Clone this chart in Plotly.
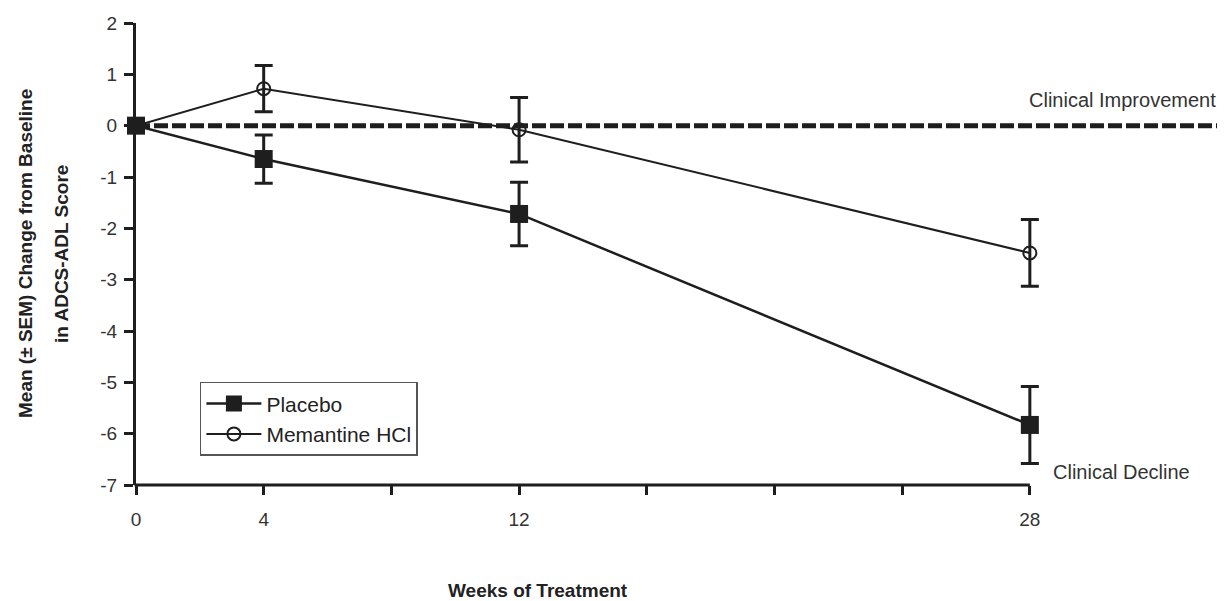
import plotly.graph_objects as go

weeks = [0, 4, 12, 28]
placebo_mean = [0, -0.65, -1.72, -5.83]
placebo_sem = [0, 0.47, 0.62, 0.75]
memantine_mean = [0, 0.72, -0.08, -2.48]
memantine_sem = [0, 0.45, 0.63, 0.65]
x_tickvals = [0, 4, 8, 12, 16, 20, 24, 28]
x_ticktext = ["0", "4", "", "12", "", "", "", "28"]
y_tickvals = [2, 1, 0, -1, -2, -3, -4, -5, -6, -7]
y_ticktext = ["2", "1", "0", "-1", "-2", "-3", "-4", "-5", "-6", "-7"]

ink = "#1e1e1e"
font = "Liberation Sans, Arial, sans-serif"
x_max = 28.6           # a little room so the end error bar caps are not clipped
axis_end = 28 / x_max  # the drawn x-axis line stops at week 28

fig = go.Figure()

fig.add_trace(go.Scatter(
    x=weeks, y=memantine_mean, name="Memantine HCl", mode="lines+markers",
    line=dict(color=ink, width=2),
    marker=dict(symbol="circle-open", size=13, color=ink, line=dict(width=2)),
    error_y=dict(type="data", array=memantine_sem, visible=True, color=ink, thickness=3, width=9),
    cliponaxis=False,
))
fig.add_trace(go.Scatter(
    x=weeks, y=placebo_mean, name="Placebo", mode="lines+markers",
    line=dict(color=ink, width=2.5),
    marker=dict(symbol="square", size=18, color=ink),
    error_y=dict(type="data", array=placebo_sem, visible=True, color=ink, thickness=3, width=9),
    cliponaxis=False,
))

# dashed zero reference line extending past the plot
fig.add_shape(type="line", xref="paper", yref="y", x0=0, x1=1.185, y0=0, y1=0,
              line=dict(color=ink, width=5, dash="14px,4px"), layer="below")
# x-axis line ending at week 28
fig.add_shape(type="line", xref="paper", yref="paper", x0=-0.0016, x1=axis_end, y0=0, y1=0,
              line=dict(color=ink, width=3))

fig.add_annotation(xref="paper", yref="y", x=1.185, y=0.5, text="Clinical Improvement",
                   showarrow=False, xanchor="right", yanchor="middle",
                   font=dict(family=font, size=20, color="#333"))
fig.add_annotation(xref="paper", yref="y", x=1.002, y=-6.75, text="Clinical Decline",
                   showarrow=False, xanchor="left", yanchor="middle",
                   font=dict(family=font, size=20, color="#333"))
fig.add_annotation(xref="paper", yref="paper", x=0.440, y=-0.228,
                   text="<b>Weeks of Treatment</b>", showarrow=False,
                   xanchor="center", yanchor="middle",
                   font=dict(family=font, size=19, color="#222"))
fig.add_annotation(xref="paper", yref="paper", x=0, y=0.5, xshift=-111,
                   text="<b>Mean (± SEM) Change from Baseline</b>", textangle=-90,
                   showarrow=False, xanchor="center", yanchor="middle",
                   font=dict(family=font, size=19, color="#222"))
fig.add_annotation(xref="paper", yref="paper", x=0, y=0.5, xshift=-75,
                   text="<b>in ADCS-ADL Score</b>", textangle=-90,
                   showarrow=False, xanchor="center", yanchor="middle",
                   font=dict(family=font, size=19, color="#222"))

# page body has an 8px margin, so the figure is drawn 8px smaller and offset
fig.update_layout(
    width=1217, height=593,
    margin=dict(l=128, r=176, t=15, b=116, autoexpand=False),
    paper_bgcolor="white", plot_bgcolor="white",
    font=dict(family=font, color="#222"),
    showlegend=True,
    legend=dict(x=0.070, y=0.223, xanchor="left", yanchor="top",
                bordercolor="#555", borderwidth=1.5, bgcolor="white",
                itemwidth=55,
                traceorder="reversed", font=dict(family=font, size=21, color="#222")),
    xaxis=dict(range=[0, x_max], tickvals=x_tickvals, ticktext=x_ticktext,
               showgrid=False, zeroline=False, showline=False, automargin=False,
               ticks="outside", ticklen=9, tickwidth=3, tickcolor=ink,
               tickfont=dict(size=19, family=font, color="#333"), ticklabelstandoff=8),
    yaxis=dict(range=[-7, 2], tickvals=y_tickvals, ticktext=y_ticktext,
               showgrid=False, zeroline=False, showline=True, linecolor=ink, linewidth=3,
               automargin=False,
               ticks="outside", ticklen=9, tickwidth=3, tickcolor=ink,
               tickfont=dict(size=19, family=font, color="#333"), ticklabelstandoff=3),
)

fig.write_html("out.html")
